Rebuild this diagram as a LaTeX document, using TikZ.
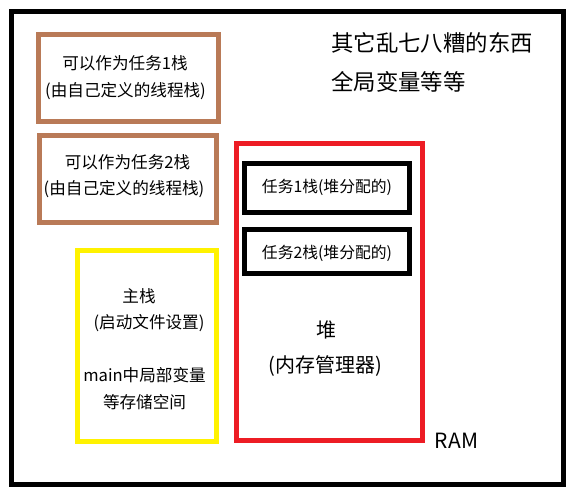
\documentclass[tikz,border=0pt]{standalone}
\usepackage{fontspec}
\setmainfont{Noto Sans CJK SC}
\definecolor{pbrown}{HTML}{B97A57}
\definecolor{pred}{HTML}{ED1C24}
\definecolor{pyellow}{HTML}{FFF200}
\begin{document}
\begin{tikzpicture}[x=1pt,y=-1pt,
  box/.style={draw, line width=5pt, inner sep=0pt, outer sep=0pt},
  txt/.style={inner sep=0pt, font=\fontsize{#1}{#1}\selectfont},
  txt/.default=16.6]
\useasboundingbox[fill=white] (0,0) rectangle (575,496);
% boxes
\node[box, draw=black, minimum width=552pt, minimum height=473.5pt] (ram) at (287,247.75) {};
\node[box, draw=pbrown, minimum width=180pt, minimum height=87.5pt] (b1) at (128.5,77.75) {};
\node[box, draw=pbrown, minimum width=177pt, minimum height=87pt] (b2) at (128,179) {};
\node[box, draw=pred, minimum width=185.5pt, minimum height=297pt] (heap) at (329.25,291.5) {};
\node[box, draw=black, minimum width=165pt, minimum height=49pt] (t1) at (327,188) {};
\node[box, draw=black, minimum width=165pt, minimum height=44pt] (t2) at (327,251.5) {};
\node[box, draw=pyellow, minimum width=139pt, minimum height=191pt] (ms) at (147,346) {};
% texts
\node[txt] (b1a) at (125,63) {可以作为任务1栈};
\node[txt] (b1b) at (125.5,91) {(由自己定义的线程栈)};
\node[txt] (b2a) at (127.5,162) {可以作为任务2栈};
\node[txt] (b2b) at (124,189) {(由自己定义的线程栈)};
\node[txt=15.8] (t1a) at (327,187) {任务1栈(堆分配的)};
\node[txt=15.8] (t2a) at (327,253) {任务2栈(堆分配的)};
\node[txt] (m1) at (139,296) {主栈};
\node[txt] (m2) at (149,323) {(启动文件设置)};
\node[txt] (m3) at (144.5,375) {main中局部变量};
\node[txt] (m4) at (144.5,402) {等存储空间};
\node[txt=20] (h1) at (326,330) {堆};
\node[txt=20] (h2) at (325,366) {(内存管理器)};
\node[txt=22.4, anchor=west] (o1) at (331,43) {其它乱七八糟的东西};
\node[txt=22.4, anchor=west] (o2) at (331,82) {全局变量等等};
\node[txt=21] (rl) at (456.5,440.5) {RAM};
\end{tikzpicture}
\end{document}
